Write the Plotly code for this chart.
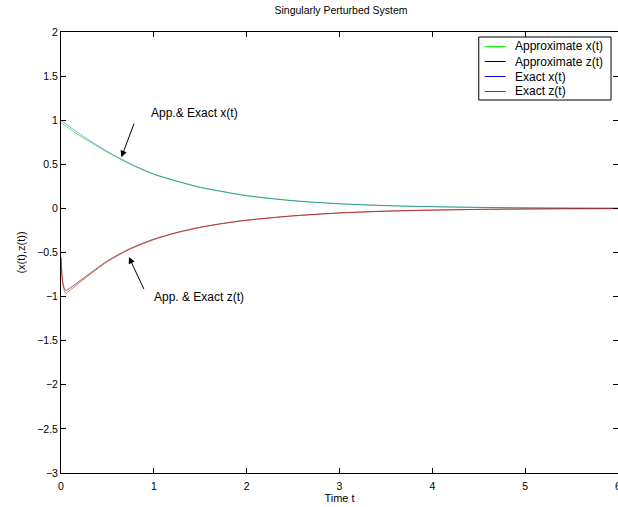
import plotly.graph_objects as go

# Time grids
t_x = [0, 0.1, 0.25, 0.5, 0.75, 1.0, 1.25, 1.5, 1.75, 2.0, 2.5, 3.0, 3.5, 4.0, 4.5, 5.0, 5.5, 6.0]
t_z = [0, 0.02, 0.05, 0.1, 0.25, 0.5, 0.75, 1.0, 1.25, 1.5, 1.75, 2.0, 2.5, 3.0, 3.5, 4.0, 4.5, 5.0, 5.5, 6.0]

# Slow state x(t)
approx_x = [0.975, 0.895, 0.792, 0.636, 0.498, 0.385, 0.306, 0.237, 0.188, 0.143, 0.086, 0.052, 0.031, 0.019, 0.011, 0.006, 0.003, 0.002]
exact_x = [1.00, 0.92, 0.810, 0.645, 0.505, 0.390, 0.310, 0.240, 0.190, 0.145, 0.088, 0.053, 0.032, 0.020, 0.012, 0.007, 0.004, 0.003]

# Fast state z(t)
approx_z = [-0.56, -0.84, -0.93, -0.90, -0.785, -0.595, -0.452, -0.348, -0.272, -0.213, -0.169, -0.133, -0.084, -0.051, -0.031, -0.019, -0.011, -0.006, -0.003, -0.002]
exact_z = [-0.55, -0.86, -0.96, -0.925, -0.80, -0.605, -0.460, -0.355, -0.276, -0.216, -0.171, -0.136, -0.086, -0.053, -0.032, -0.020, -0.012, -0.007, -0.004, -0.003]

legend_names = ["Approximate x(t)", "Approximate z(t)", "Exact x(t)", "Exact z(t)"]
colors = ["#00ff00", "#000000", "#0000ff", "#ff0000"]
line_opacity = [1.0, 0.8, 0.6, 0.85]

FONT = "Liberation Sans, Arial, Helvetica, sans-serif"
TICK_FONT = dict(family=FONT, size=10.5, color="black")
LABEL_FONT = dict(family=FONT, size=11, color="black")
TITLE_FONT = dict(family=FONT, size=10.5, color="black")
TEXT_FONT = dict(family=FONT, size=12, color="black")

# Pixel geometry of the axes box (figure is 621 px wide, plot box 61..621 x 32..473)
L, R, T, B = 61, 621, 32, 473


def px(xp):
    return (xp - L) / (R - L)


def py(yp):
    return (B - yp) / (B - T)


fig = go.Figure()
series = [(t_x, approx_x), (t_z, approx_z), (t_x, exact_x), (t_z, exact_z)]
for (tt, vals), name, col, op in zip(series, legend_names, colors, line_opacity):
    fig.add_trace(go.Scatter(
        x=tt, y=vals, mode="lines", name=name, showlegend=False, opacity=op,
        line=dict(color=col, width=0.7, shape="spline", smoothing=0.8),
    ))

axis_common = dict(
    showline=True, linecolor="black", linewidth=1, mirror="ticks",
    ticks="inside", ticklen=5, tickcolor="black", tickwidth=1,
    showgrid=False, zeroline=False, tickfont=TICK_FONT,
)
fig.update_xaxes(range=[0, 6], tickvals=[0, 1, 2, 3, 4, 5, 6], ticklabeloverflow="allow",
                 ticklabelstandoff=3,
                 title=dict(text="Time t", font=LABEL_FONT, standoff=3),
                 **axis_common)
fig.update_yaxes(range=[-3, 2], dtick=0.5,
                 title=dict(text="(x(t),z(t))", font=LABEL_FONT, standoff=9),
                 **axis_common)

# Arrows pointing at the curves
arrow = dict(showarrow=True, arrowhead=2, arrowsize=1.3, arrowwidth=1, arrowcolor="black",
             xref="x", yref="y", axref="x", ayref="y", text="")
fig.add_annotation(x=0.65, y=0.58, ax=0.793, ay=0.978, **arrow)
fig.add_annotation(x=0.732, y=-0.552, ax=0.90, ay=-0.93, **arrow)

fig.add_annotation(x=0.943, y=1.08, text="App.& Exact x(t)", showarrow=False,
                   xanchor="left", yanchor="middle", font=TEXT_FONT)
fig.add_annotation(x=0.982, y=-1.006, text="App. & Exact z(t)", showarrow=False,
                   xanchor="left", yanchor="middle", font=TEXT_FONT)

# Legend box drawn in plot-area coordinates
fig.add_shape(type="rect", xref="paper", yref="paper",
              x0=px(481), x1=px(614), y0=py(100), y1=py(37),
              line=dict(color="black", width=1), fillcolor="white", layer="above")
row_y = [46.5, 61.5, 76.5, 91.5]
for name, col, yy in zip(legend_names, colors, row_y):
    fig.add_shape(type="line", xref="paper", yref="paper",
                  x0=px(487), x1=px(508), y0=py(yy), y1=py(yy),
                  line=dict(color=col, width=1), layer="above")
    fig.add_annotation(xref="paper", yref="paper", x=px(515), y=py(yy), text=name,
                       showarrow=False, xanchor="left", yanchor="middle", font=TEXT_FONT)

fig.update_layout(
    width=621, height=507,
    margin=dict(l=L, r=621 - R, t=T, b=507 - B),
    paper_bgcolor="white", plot_bgcolor="white",
    showlegend=False,
    title=dict(text="Singularly Perturbed System", x=341 / 621, xanchor="center",
               y=1 - 10 / 507, yanchor="middle", font=TITLE_FONT),
    font=LABEL_FONT,
)

# The page keeps a 618 px wide window onto the figure
fig.write_html(
    "out.html",
    post_script=(
        "document.documentElement.style.margin='0';"
        "document.body.style.margin='0';"
        "var w=document.getElementById('{plot_id}').parentElement;"
        "w.style.width='618px';w.style.height='507px';w.style.overflow='hidden';"
    ),
)
